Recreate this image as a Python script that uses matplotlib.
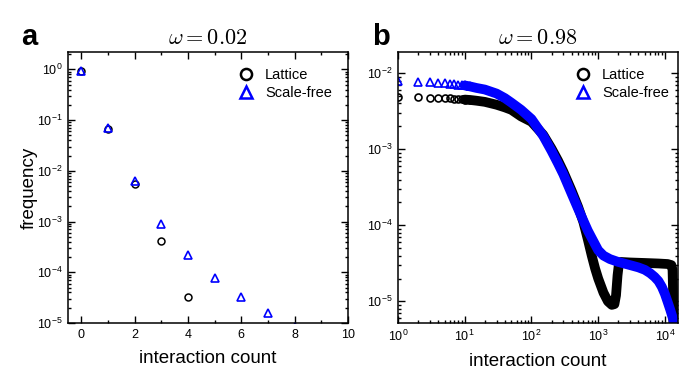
import matplotlib
matplotlib.use('Agg')
import matplotlib.pyplot as plt
from matplotlib.lines import Line2D
from matplotlib.ticker import MultipleLocator, LogLocator, NullFormatter

# panel a: omega = 0.02
lat_count_a = [0, 1, 2, 3, 4]
lat_freq_a = [0.925, 0.068, 0.0054, 4.2e-4, 3.3e-5]
sf_count_a = [0, 1, 2, 3, 4, 5, 6, 7, 8]
sf_freq_a = [0.925, 0.0685, 0.0063, 9.1e-4, 2.2e-4, 7.6e-5, 3.3e-5, 1.6e-5, 8.5e-6]

# panel b: omega = 0.98
lat_count_b = [1, 2, 3, 4, 5, 6, 7, 8, 9, 10, 12, 15, 20, 30, 40, 50, 70, 100,
               150, 200, 250, 300, 400, 500, 600, 700, 800, 900, 1000, 1200,
               1400, 1600, 1750, 1850, 1950, 2050, 2200, 3000, 5000, 8000,
               11000, 12500, 13000, 13200, 13300, 13400]
lat_freq_b = [4.8e-3, 4.8e-3, 4.75e-3, 4.7e-3, 4.7e-3, 4.65e-3, 4.6e-3, 4.6e-3,
              4.55e-3, 4.5e-3, 4.45e-3, 4.35e-3, 4.2e-3, 3.85e-3, 3.55e-3,
              3.3e-3, 2.7e-3, 2.3e-3, 1.55e-3, 1.02e-3, 7.1e-4, 5.1e-4, 2.85e-4,
              1.75e-4, 1.1e-4, 6.5e-5, 4e-5, 2.7e-5, 2.0e-5, 1.3e-5, 1.0e-5,
              9e-6, 9.2e-6, 1.2e-5, 2.2e-5, 3.2e-5, 3.3e-5, 3.25e-5, 3.2e-5,
              3.15e-5, 3.1e-5, 3.0e-5, 2.6e-5, 1.5e-5, 8e-6, 4e-6]
sf_count_b = [1, 2, 3, 4, 5, 6, 7, 8, 9, 10, 12, 15, 20, 30, 40, 50, 70, 100,
              150, 200, 250, 300, 400, 500, 600, 700, 800, 1000, 1200, 1500,
              2000, 3000, 4000, 5000, 6000, 7000, 8000, 9000, 10000, 11000,
              12000, 13000, 14000, 15000]
sf_freq_b = [7.8e-3, 7.7e-3, 7.6e-3, 7.5e-3, 7.4e-3, 7.3e-3, 7.2e-3, 7.1e-3,
             7.0e-3, 6.9e-3, 6.7e-3, 6.4e-3, 6.1e-3, 5.4e-3, 4.7e-3, 4.1e-3,
             3.3e-3, 2.5e-3, 1.5e-3, 9.5e-4, 6.5e-4, 4.7e-4, 2.6e-4, 1.65e-4,
             1.15e-4, 8.5e-5, 6.8e-5, 4.7e-5, 4.0e-5, 3.6e-5, 3.3e-5, 3.0e-5,
             2.8e-5, 2.6e-5, 2.35e-5, 2.1e-5, 1.85e-5, 1.55e-5, 1.25e-5, 9.8e-6,
             7.8e-6, 6.2e-6, 5e-6, 4e-6]

BLUE = '#0000ff'

plt.rcParams['font.family'] = ['Liberation Sans', 'DejaVu Sans']

fig = plt.figure(figsize=(6.98, 3.88), dpi=100)
ax1 = fig.add_axes([68 / 698, 65 / 388, 280 / 698, 271 / 388])
ax2 = fig.add_axes([398 / 698, 65 / 388, 280 / 698, 271 / 388])


def style(ax):
    ax.tick_params(which='both', direction='in', top=True, right=True,
                   labelsize=9, width=1, pad=4)
    ax.tick_params(which='major', length=5)
    ax.tick_params(which='minor', length=2.5)
    for s in ax.spines.values():
        s.set_linewidth(1.1)


def legend(ax, anchor):
    handles = [Line2D([], [], ls='none', marker='o', mfc='none', mec='k',
                      ms=8, mew=1.8),
               Line2D([], [], ls='none', marker='^', mfc='none', mec=BLUE,
                      ms=9, mew=1.8)]
    ax.legend(handles, ['Lattice', 'Scale-free'], loc='upper left',
              bbox_to_anchor=anchor, frameon=False, fontsize=10.5,
              handlelength=1.0, handletextpad=0.8, labelspacing=0.25,
              borderaxespad=0, borderpad=0)


# --- panel a ---
ax1.plot(lat_count_a, lat_freq_a, ls='none', marker='o', mfc='none', mec='k',
         ms=5, mew=1.1)
ax1.plot(sf_count_a, sf_freq_a, ls='none', marker='^', mfc='none', mec=BLUE,
         ms=6, mew=1.2)
ax1.set_yscale('log')
ax1.set_xlim(-0.5, 10)
ax1.set_ylim(1e-5, 2.2)
ax1.xaxis.set_major_locator(MultipleLocator(2))
ax1.xaxis.set_minor_locator(MultipleLocator(1))
ax1.yaxis.set_major_locator(LogLocator(base=10, numticks=10))
ax1.yaxis.set_minor_locator(LogLocator(base=10, subs=range(2, 10), numticks=20))
ax1.yaxis.set_minor_formatter(NullFormatter())
style(ax1)
ax1.set_xlabel('interaction count', fontsize=13.5, labelpad=7)
ax1.set_ylabel('frequency', fontsize=13.5, labelpad=-1)
ax1.set_title(r'$\omega = 0.02$', fontsize=16, math_fontfamily='cm', pad=6)
legend(ax1, (0.61, 0.94))

# --- panel b ---
start = lat_count_b.index(10)
ax2.plot(lat_count_b[start:], lat_freq_b[start:], color='k', lw=7,
         solid_capstyle='round', solid_joinstyle='round')
ax2.plot(lat_count_b[:start + 2], lat_freq_b[:start + 2], ls='none',
         marker='o', mfc='none', mec='k', ms=5, mew=1.2)
start = sf_count_b.index(10)
ax2.plot(sf_count_b[start:], sf_freq_b[start:], color=BLUE, lw=7,
         solid_capstyle='round', solid_joinstyle='round')
ax2.plot(sf_count_b[:start + 2], sf_freq_b[:start + 2], ls='none',
         marker='^', mfc='none', mec=BLUE, ms=5.5, mew=1.2)
ax2.set_xscale('log')
ax2.set_yscale('log')
ax2.set_xlim(1, 1.57e4)
ax2.set_ylim(5.2e-6, 1.9e-2)
ax2.xaxis.set_minor_formatter(NullFormatter())
ax2.yaxis.set_minor_formatter(NullFormatter())
style(ax2)
ax2.set_xlabel('interaction count', fontsize=13.5, labelpad=7)
ax2.set_title(r'$\omega = 0.98$', fontsize=16, math_fontfamily='cm', pad=6)
legend(ax2, (0.635, 0.94))

fig.text(21 / 698, 1 - 45 / 388, 'a', fontsize=21, fontweight='bold',
         va='baseline')
fig.text(372 / 698, 1 - 45 / 388, 'b', fontsize=21, fontweight='bold',
         va='baseline')

fig.savefig('out.png', dpi=100)
